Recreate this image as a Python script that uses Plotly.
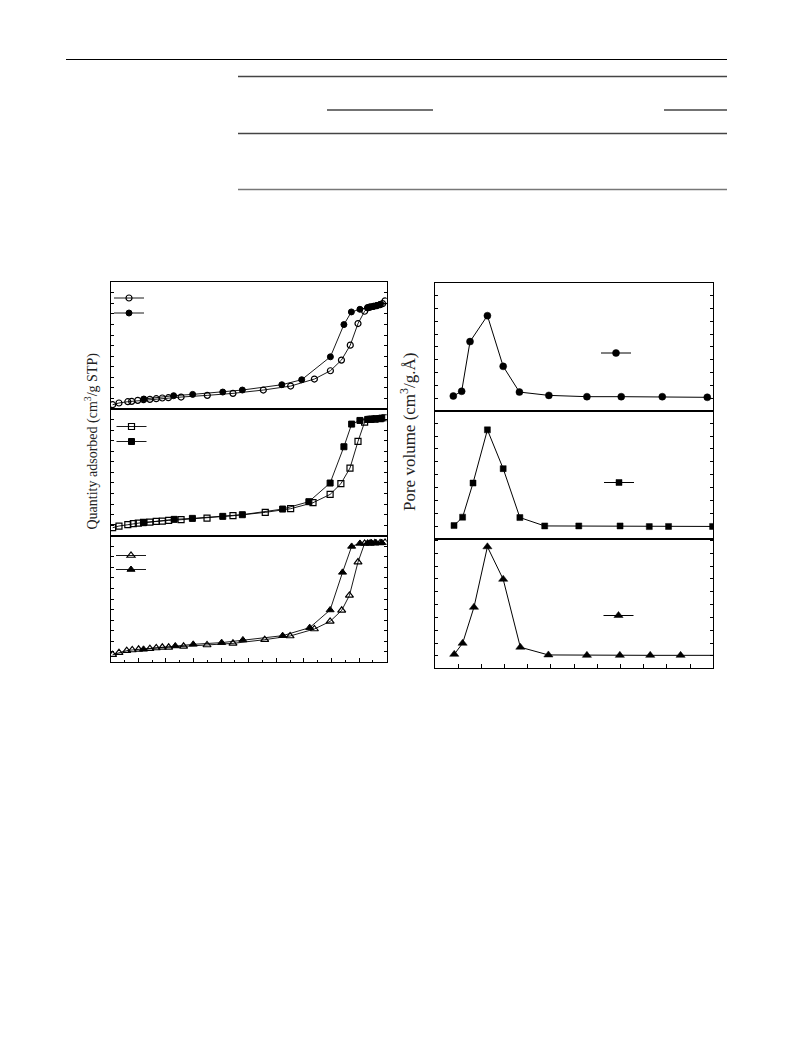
import plotly.graph_objects as go

W, H = 793, 1053

# ---------------- data: N2 isotherms (relative pressure, quantity adsorbed) ----------------
ads1_x = [0.007,0.030,0.062,0.076,0.098,0.119,0.142,0.165,0.187,0.209,0.255,0.350,0.443,0.553,0.652,0.738,0.796,0.836,0.868,0.896,0.920,0.931,0.940,0.952,0.964,0.976,0.985,0.994]
ads1_y = [10.2,14.2,17.3,18.1,20.5,22.0,22.8,24.4,26.0,26.8,28.3,32.3,37.0,44.9,54.3,70.9,90.6,115.8,151.2,202.3,231.5,240.0,241.6,243.0,244.7,247.0,249.4,255.9]
des1_x = [0.120,0.228,0.297,0.406,0.477,0.620,0.692,0.796,0.845,0.872,0.903,0.931,0.940,0.952,0.964,0.976]
des1_y = [23.6,31.5,34.6,40.1,44.9,57.5,69.3,123.6,199.9,229.8,236.1,239.3,241.0,243.0,245.0,247.5]

ads2_x = [0.007,0.030,0.062,0.082,0.100,0.119,0.142,0.165,0.187,0.210,0.255,0.349,0.443,0.560,0.652,0.733,0.795,0.834,0.867,0.896,0.920,0.940,0.957,0.976,0.994]
ads2_y = [18.9,22.9,26.0,28.4,30.0,31.6,32.3,34.0,34.7,36.3,37.9,41.8,47.3,55.2,63.9,78.1,97.8,123.1,160.2,223.3,269.0,275.4,276.0,277.0,279.3]
des2_x = [0.119,0.230,0.296,0.406,0.477,0.623,0.718,0.795,0.845,0.873,0.903,0.931,0.945,0.961,0.982]
des2_y = [30.8,38.7,41.0,45.8,49.7,63.1,80.5,124.7,210.6,264.2,272.9,275.3,276.1,277.0,278.4]

ads3_x = [0.007,0.030,0.058,0.078,0.101,0.142,0.165,0.187,0.210,0.264,0.349,0.443,0.558,0.650,0.738,0.795,0.837,0.865,0.896,0.920,0.940,0.957,0.976,0.994]
ads3_y = [18.1,22.9,27.6,29.2,30.8,32.3,33.9,35.5,35.5,37.9,41.0,44.9,53.6,62.3,78.9,97.0,123.1,158.6,237.5,281.7,282.0,282.5,283.0,283.9]
des3_x = [0.119,0.234,0.299,0.402,0.479,0.623,0.721,0.795,0.840,0.873,0.903,0.931,0.945,0.961,0.982]
des3_y = [30.8,38.7,42.6,46.6,52.9,63.1,82.1,124.0,213.1,274.6,281.7,282.5,283.0,283.3,283.6]

# ---------------- data: pore size distributions (pore width, pore volume) ----------------
psd1_x = [15.8,23.0,30.2,45.2,58.8,72.8,98.2,131.0,160.6,196.0,234.8]
psd1_y = [0.0018,0.0055,0.0442,0.0644,0.0249,0.0049,0.0023,0.0013,0.0013,0.0013,0.0008]
psd2_x = [16.4,23.8,32.8,45.2,58.8,73.2,94.6,124.0,159.6,184.8,201.4,239.4]
psd2_y = [0.0005,0.0070,0.0335,0.0748,0.0447,0.0067,0.0002,0.0002,0.0002,-0.0003,-0.0002,-0.0002]
psd3_x = [16.6,23.8,33.6,45.2,58.8,73.6,97.8,131.0,159.4,185.6,211.8,260.0]
psd3_y = [0.0013,0.0099,0.0379,0.0850,0.0597,0.0068,0.0008,0.0005,0.0005,0.0005,0.0005,0.0005]

y_title_left = "Quantity adsorbed (cm<sup>3</sup>/g STP)"
y_title_right = "Pore volume (cm<sup>3</sup>/g.Å)"

FONT = "Liberation Serif"

def px_x(p):
    return p / W

def px_y(p):
    return 1 - p / H

fig = go.Figure()

LW = 0.9
left_sets = [
    (ads1_x, ads1_y, des1_x, des1_y, "circle-open", "circle", 6),
    (ads2_x, ads2_y, des2_x, des2_y, "square-open", "square", 6),
    (ads3_x, ads3_y, des3_x, des3_y, "triangle-up-open", "triangle-up", 7),
]
# legend anchor positions (pixels, top-left of legend box)
left_leg = [((109, 283.5), (109, 298.5)), ((111.5, 412), (111.5, 427)), ((111, 541), (111, 555))]

leg_i = 1
def legname(i):
    return "legend" if i == 1 else f"legend{i}"

for k, (ax_, ay_, dx_, dy_, sym_o, sym_f, ms) in enumerate(left_sets):
    xa = "x" if k == 0 else f"x{k+1}"
    ya = "y" if k == 0 else f"y{k+1}"
    fig.add_trace(go.Scatter(x=ax_, y=ay_, mode="lines+markers", name=" ", xaxis=xa, yaxis=ya,
                             line=dict(color="black", width=LW),
                             marker=dict(symbol=sym_o, size=ms, color="black", line=dict(width=1.2, color="black")),
                             legend=legname(leg_i)))
    lx, ly = left_leg[k][0]
    fig.layout[legname(leg_i)] = dict(x=px_x(lx), y=px_y(ly), xanchor="left", yanchor="top",
                                      bgcolor="rgba(0,0,0,0)", font=dict(family=FONT, size=9), borderwidth=0)
    leg_i += 1
    fig.add_trace(go.Scatter(x=dx_, y=dy_, mode="lines+markers", name=" ", xaxis=xa, yaxis=ya,
                             line=dict(color="black", width=LW),
                             marker=dict(symbol=sym_f, size=ms, color="black", line=dict(width=1, color="black")),
                             legend=legname(leg_i)))
    lx, ly = left_leg[k][1]
    fig.layout[legname(leg_i)] = dict(x=px_x(lx), y=px_y(ly), xanchor="left", yanchor="top",
                                      bgcolor="rgba(0,0,0,0)", font=dict(family=FONT, size=9), borderwidth=0)
    leg_i += 1

right_sets = [
    (psd1_x, psd1_y, "circle", 7, (596, 338.5)),
    (psd2_x, psd2_y, "square", 6, (599, 468)),
    (psd3_x, psd3_y, "triangle-up", 8, (598.5, 601)),
]
for k, (xx, yy, sym, ms, (lx, ly)) in enumerate(right_sets):
    xa = f"x{k+4}"
    ya = f"y{k+4}"
    fig.add_trace(go.Scatter(x=xx, y=yy, mode="lines+markers", name=" ", xaxis=xa, yaxis=ya,
                             line=dict(color="black", width=1),
                             marker=dict(symbol=sym, size=ms, color="black", line=dict(width=0.5, color="black")),
                             legend=legname(leg_i)))
    fig.layout[legname(leg_i)] = dict(x=px_x(lx), y=px_y(ly), xanchor="left", yanchor="top",
                                      bgcolor="rgba(0,0,0,0)", font=dict(family=FONT, size=9), borderwidth=0)
    leg_i += 1

base_axis = dict(showline=True, linecolor="black", linewidth=1, showgrid=False, zeroline=False,
                 showticklabels=False)

# left panel domains (pixels)
lx0, lx1 = 110.7, 386.7
left_y = [(282.3, 409), (409, 535.7), (535.7, 662.3)]
rx0, rx1 = 435, 713.3
right_y = [(283.3, 410.8), (410.8, 539.2), (539.2, 668.3)]
right_yr = [(-0.0097, 0.0896), (-0.0101, 0.0896), (-0.0096, 0.0909)]

layout = dict(width=W, height=H, margin=dict(l=0, r=0, t=0, b=0),
              paper_bgcolor="white", plot_bgcolor="white", showlegend=True,
              font=dict(family=FONT, color="black"))

for k in range(3):
    xn = "xaxis" if k == 0 else f"xaxis{k+1}"
    yn = "yaxis" if k == 0 else f"yaxis{k+1}"
    xa = dict(base_axis, domain=[px_x(lx0), px_x(lx1)], range=[0, 1], mirror=True,
              anchor="y" if k == 0 else f"y{k+1}")
    if k == 2:
        xa.update(ticks="inside", ticklen=4, tickwidth=1, tickcolor="black", tick0=0, dtick=0.1,
                  minor=dict(ticks="inside", ticklen=2, dtick=0.05, tickcolor="black"))
    else:
        xa.update(ticks="")
    ya = dict(base_axis, domain=[px_y(left_y[k][1]), px_y(left_y[k][0])], range=[0, 300], mirror="ticks",
              ticks="inside", ticklen=3, tickwidth=1, tickcolor="black", tick0=0, dtick=25,
              anchor="x" if k == 0 else f"x{k+1}")
    layout[xn] = xa
    layout[yn] = ya

for k in range(3):
    i = k + 4
    xa = dict(base_axis, domain=[px_x(rx0), px_x(rx1)], range=[0, 240], mirror=True, anchor=f"y{i}")
    if k == 2:
        xa.update(ticks="inside", ticklen=4, tickwidth=1, tickcolor="black", tick0=0, dtick=20)
    else:
        xa.update(ticks="")
    ya = dict(base_axis, domain=[px_y(right_y[k][1]), px_y(right_y[k][0])], range=list(right_yr[k]),
              mirror="ticks", ticks="inside", ticklen=3, tickwidth=1, tickcolor="black", tick0=0, dtick=0.01,
              anchor=f"x{i}")
    layout[f"xaxis{i}"] = xa
    layout[f"yaxis{i}"] = ya

fig.update_layout(**layout)

# axis titles
fig.add_annotation(text=y_title_left, x=px_x(80), y=px_y(441), xref="paper", yref="paper",
                   textangle=-90, showarrow=False, font=dict(family=FONT, size=14, color="#222"))
fig.add_annotation(text=y_title_right, x=px_x(408), y=px_y(432), xref="paper", yref="paper",
                   textangle=-90, showarrow=False, font=dict(family=FONT, size=17, color="#222"))

# table rules at the top of the page
rules = [
    (66, 727, 59.5, "black", 1.2),
    (238, 727, 76.5, "#444", 1.3),
    (327, 433, 110, "#444", 1.3),
    (664, 727, 110, "#444", 1.3),
    (238, 727, 133.5, "#444", 1.3),
    (238, 727, 189.5, "#777", 1.6),
]
for x0, x1, yy, c, w in rules:
    fig.add_shape(type="line", xref="paper", yref="paper", x0=px_x(x0), x1=px_x(x1),
                  y0=px_y(yy), y1=px_y(yy), line=dict(color=c, width=w))

fig.write_html("out.html", config={"displayModeBar": False},
               post_script="document.body.style.margin='0px';document.body.style.padding='0px';")
